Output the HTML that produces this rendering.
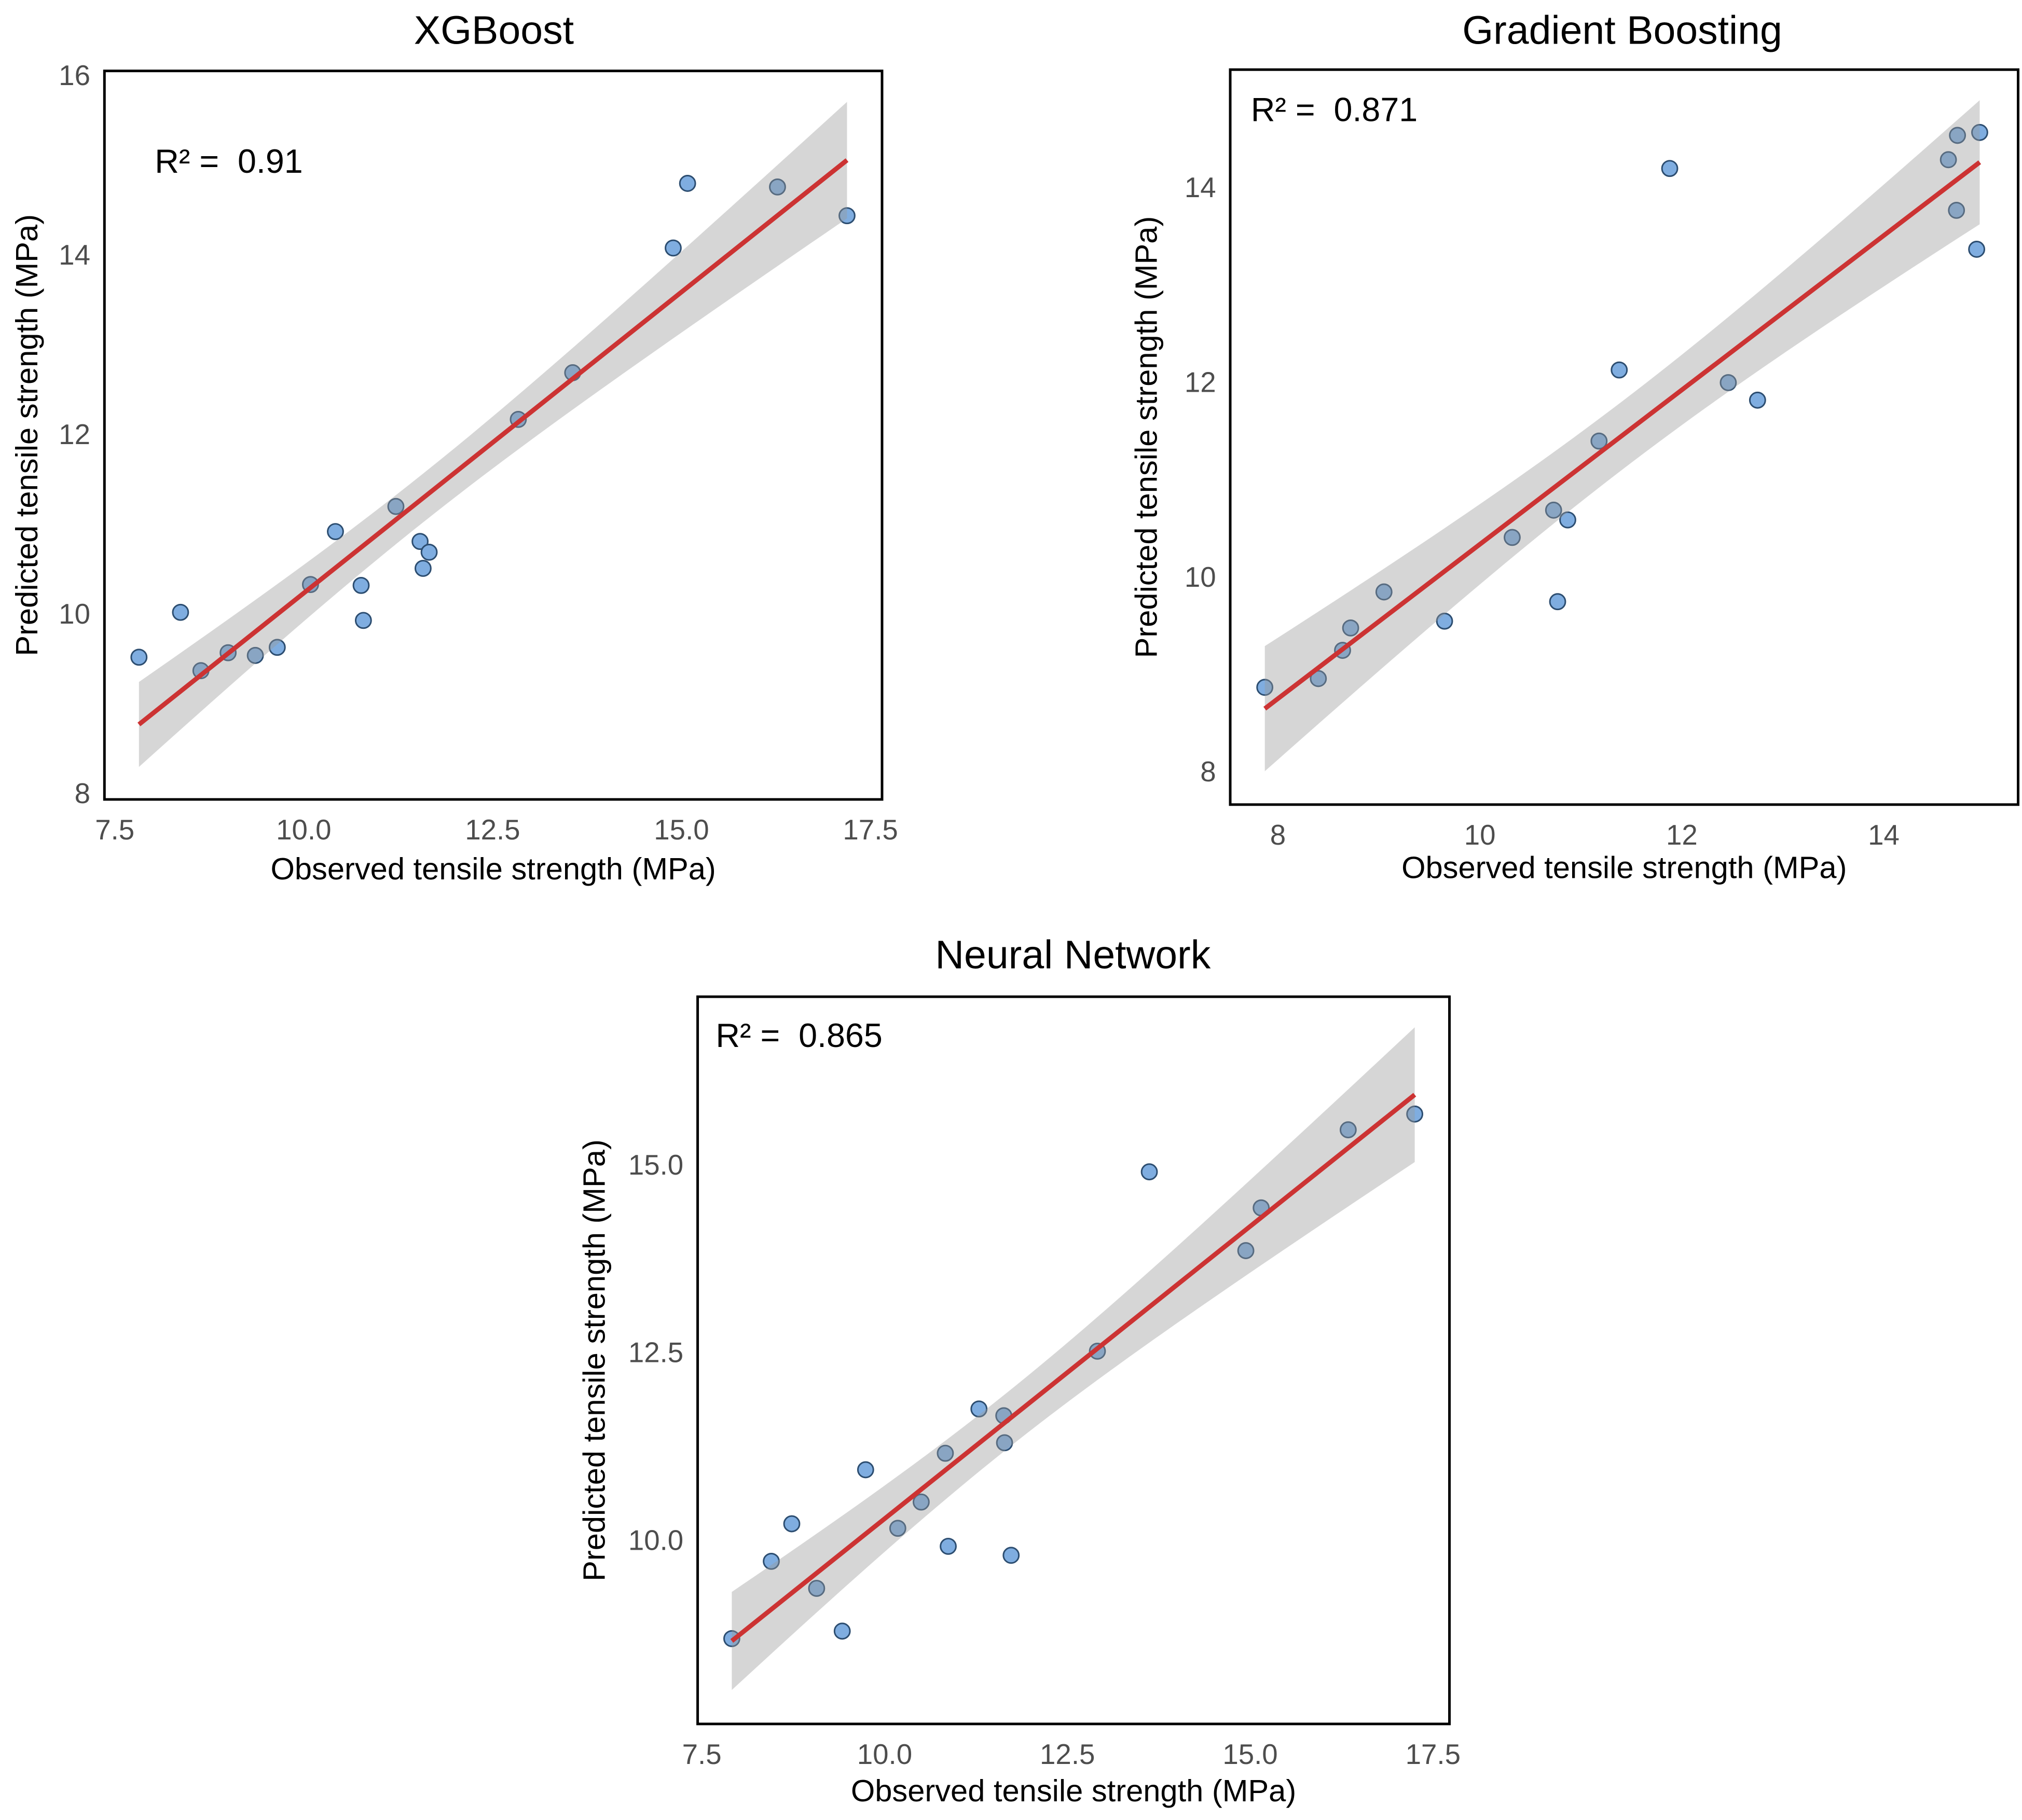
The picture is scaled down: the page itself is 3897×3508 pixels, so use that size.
<!DOCTYPE html>
<html><head><meta charset="utf-8"><style>
html,body{margin:0;padding:0;background:#fff}
svg{display:block}
text{font-family:"Liberation Sans",sans-serif;white-space:pre}
</style></head><body>
<svg id="chart" width="3897" height="3508" viewBox="0 0 1568 1411.5" preserveAspectRatio="none" xmlns="http://www.w3.org/2000/svg"></svg>
<script>
// ---- data ----
const xgbObserved = [7.82,8.37,8.64,9.0,9.36,9.65,10.09,10.42,10.76,10.79,11.22,11.54,11.58,11.66,12.84,13.56,14.89,15.08,16.27,17.19];
const xgbPredicted = [9.51,10.01,9.36,9.56,9.53,9.62,10.32,10.91,10.31,9.92,11.19,10.80,10.50,10.68,12.16,12.68,14.07,14.79,14.75,14.43];
const gbObserved = [7.87,8.40,8.64,8.72,9.05,9.65,10.32,10.73,10.77,10.87,11.18,11.38,11.88,12.46,12.75,14.64,14.73,14.72,14.95,14.92];
const gbPredicted = [8.86,8.95,9.24,9.47,9.84,9.54,10.40,10.68,9.74,10.58,11.39,12.12,14.19,11.99,11.81,14.28,14.53,13.76,14.56,13.36];
const nnObserved = [7.91,8.45,8.73,9.07,9.42,9.74,10.18,10.50,10.83,10.87,11.29,11.63,11.64,11.73,12.91,13.62,14.94,15.15,16.34,17.25];
const nnPredicted = [8.68,9.71,10.21,9.35,8.78,10.93,10.15,10.50,11.15,9.91,11.74,11.65,11.29,9.79,12.51,14.90,13.85,14.42,15.46,15.67];
const xgbXTicks = [7.5,10,12.5,15,17.5];
const xgbYTicks = [8,10,12,14,16];
const gbXTicks = [8,10,12,14];
const gbYTicks = [8,10,12,14];
const nnXTicks = [7.5,10,12.5,15,17.5];
const nnYTicks = [10,12.5,15];
const r2Labels = ["R² =  0.91","R² =  0.871","R² =  0.865"];
const titles = ["XGBoost","Gradient Boosting","Neural Network"];

const NS="http://www.w3.org/2000/svg";
const svg=document.getElementById('chart');
function mk(tag,attrs,parent){const e=document.createElementNS(NS,tag);for(const k in attrs)e.setAttribute(k,attrs[k]);(parent||svg).appendChild(e);return e;}

function panel(cfg,obs,pred,xt,yt,xdec,ydec,title,r2,name){
  const g=mk('g',{});
  
  
  const sx=v=>cfg.x0px+(v-cfg.x0)*cfg.xs;
  const sy=v=>cfg.y0px-(v-cfg.y0)*cfg.ys;
  const pg=mk('g',{},g);
  
  
  for(let i=0;i<obs.length;i++){
    const c=mk('circle',{cx:sx(obs[i]),cy:sy(pred[i]),r:6,fill:'#7fade0',stroke:'#2c4d70','stroke-width':1.2},pg);
    
    
  }
  const n=obs.length;let mx=0,my=0;for(let i=0;i<n;i++){mx+=obs[i];my+=pred[i];}mx/=n;my/=n;
  let sxx=0,sxy=0;for(let i=0;i<n;i++){sxx+=(obs[i]-mx)**2;sxy+=(obs[i]-mx)*(pred[i]-my);}
  const b=sxy/sxx,a=my-b*mx;let sse=0;for(let i=0;i<n;i++)sse+=(pred[i]-a-b*obs[i])**2;
  const s=Math.sqrt(sse/(n-2)),t=2.101;
  const xmin=Math.min(...obs),xmax=Math.max(...obs);
  const up=[],lo=[];
  for(let k=0;k<=60;k++){const x=xmin+(xmax-xmin)*k/60;const y=a+b*x;const h=t*s*Math.sqrt(1/n+(x-mx)**2/sxx);
    up.push(sx(x)+','+sy(y+h));lo.unshift(sx(x)+','+sy(y-h));}
  const band=mk('polygon',{points:up.concat(lo).join(' '),fill:'rgba(153,153,153,0.4)'},g);
  
  
  const ln=mk('line',{x1:sx(xmin),y1:sy(a+b*xmin),x2:sx(xmax),y2:sy(a+b*xmax),stroke:'#cc3333','stroke-width':3.6},g);
  
  
  const bx=mk('rect',{x:cfg.l,y:cfg.t,width:cfg.r-cfg.l,height:cfg.b-cfg.t,fill:'none',stroke:'#000','stroke-width':2},g);
  
  
  xt.forEach(v=>{const tx=mk('text',{x:sx(v),y:cfg.b+31,'text-anchor':'middle','font-size':22,fill:'#4d4d4d'},g);tx.textContent=v.toFixed(xdec);
    });
  yt.forEach(v=>{const tx=mk('text',{x:cfg.l-11,y:sy(v)+8,'text-anchor':'end','font-size':22,fill:'#4d4d4d'},g);tx.textContent=v.toFixed(ydec);
    });
  const xl=mk('text',{x:(cfg.l+cfg.r)/2,y:cfg.b+cfg.xo,'text-anchor':'middle','font-size':24,fill:'#000'},g);xl.textContent='Observed tensile strength (MPa)';
  
  const yc=(cfg.t+cfg.b)/2,yx=cfg.l-cfg.yo;
  const yl=mk('text',{x:yx,y:yc,'text-anchor':'middle','font-size':24,fill:'#000',transform:`rotate(-90 ${yx} ${yc})`},g);yl.textContent='Predicted tensile strength (MPa)';
  
  const tt=mk('text',{x:cfg.tx,y:cfg.ty,'text-anchor':'middle','font-size':31,fill:'#000'},g);tt.textContent=title;
  
  const rl=mk('text',{x:cfg.rx,y:cfg.ry,'font-size':26,fill:'#000'},g);rl.textContent=r2;
  
}
panel({l:81,r:684,t:55,b:620,x0:7.5,x0px:89,xs:58.6,y0:16,y0px:58,ys:69.6,yo:52,xo:62,tx:383,ty:34,rx:120,ry:134},xgbObserved,xgbPredicted,xgbXTicks,xgbYTicks,1,0,titles[0],r2Labels[0],'xgboost');
panel({l:954,r:1565,t:54,b:624,x0:8,x0px:991,xs:78.3,y0:14,y0px:145,ys:75.5,yo:57,xo:57,tx:1258,ty:34,rx:970,ry:94},gbObserved,gbPredicted,gbXTicks,gbYTicks,0,0,titles[1],r2Labels[1],'gradient-boosting');
panel({l:541,r:1124,t:773,b:1337,x0:10,x0px:686,xs:56.7,y0:10,y0px:1194,ys:58.2,yo:72,xo:60,tx:832,ty:751,rx:555,ry:812},nnObserved,nnPredicted,nnXTicks,nnYTicks,1,1,titles[2],r2Labels[2],'neural-network');
</script>
</body></html>
